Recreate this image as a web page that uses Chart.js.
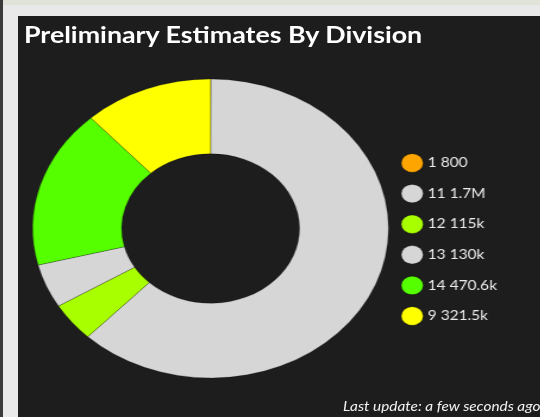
<!DOCTYPE html>
<html>
<head>
<meta charset="utf-8">
<script src="https://cdn.jsdelivr.net/npm/chart.js@4.4.1/dist/chart.umd.min.js"></script>
<style>
  html, body { margin: 0; padding: 0; }
  body { width: 540px; height: 417px; overflow: hidden; background: #e9e9e9; position: relative; }
  #edge { position: absolute; left: 0; top: 0; width: 3px; height: 417px; background: #3a3a3a; }
  #band { position: absolute; left: 0; top: 0; width: 540px; height: 5px; background: #dfe3d8; }
  #panel { position: absolute; left: 18px; top: 16px; width: 522px; height: 401px; background: #1d1d1d; overflow: hidden; }
  #stage { position: absolute; left: 0; top: 0; width: 439px; height: 401px; transform: scaleX(1.19); transform-origin: 0 0; }
  #title { position: absolute; left: 5px; top: 5.5px; font: 700 22.5px/25px Lato, "Open Sans", sans-serif; color: #ffffff; white-space: nowrap; }
  #foot { position: absolute; right: 0; top: 383px; font: italic 12.9px/14px Lato, "Open Sans", sans-serif; color: #f2f2f2; white-space: nowrap; }
  #c { position: absolute; left: 0; top: 0; }
</style>
</head>
<body>
<div id="band"></div>
<div id="edge"></div>
<div id="panel">
  <div id="stage">
    <div id="title">Preliminary Estimates By Division</div>
    <canvas id="c" width="439" height="401"></canvas>
    <div id="foot">Last update: a few seconds ago</div>
  </div>
</div>
<script>
// Division codes and their preliminary estimates
const divisions = ['1', '11', '12', '13', '14', '9'];
const estimates = [800, 1700000, 115000, 130000, 470600, 321500];
const sliceColors = ['#ffa500', '#d6d6d6', '#a8ff00', '#d6d6d6', '#55ff00', '#ffff00'];

// Short form used in the legend: 800, 115k, 470.6k, 1.7M
function shortNumber(v) {
  const trim = n => (Math.round(n * 10) / 10).toString();
  if (v >= 1e6) return trim(v / 1e6) + 'M';
  if (v >= 1e3) return trim(v / 1e3) + 'k';
  return String(v);
}

const baseLabels = Chart.overrides.doughnut.plugins.legend.labels.generateLabels;

new Chart(document.getElementById('c'), {
  type: 'doughnut',
  data: {
    labels: divisions,
    datasets: [{
      data: estimates,
      backgroundColor: sliceColors,
      borderColor: 'rgba(0,0,0,0.22)',
      borderWidth: 1,
      clip: false
    }]
  },
  options: {
    responsive: false,
    animation: false,
    devicePixelRatio: 1,
    radius: 149.5,
    cutout: '50%',
    layout: { padding: { top: 62, bottom: 38, left: 16.5, right: 26.5 } },
    plugins: {
      tooltip: { enabled: false },
      legend: {
        position: 'right',
        title: { display: true, text: '', font: { size: 10 }, padding: { top: 10, bottom: 0 } },
        labels: {
          usePointStyle: true,
          pointStyle: 'circle',
          color: '#ececec',
          padding: 17.6,
          font: { family: 'Lato, "Open Sans", sans-serif', size: 13 },
          generateLabels(chart) {
            return baseLabels(chart).map((item, i) => {
              item.text = divisions[i] + ' ' + shortNumber(estimates[i]);
              return item;
            });
          }
        }
      }
    }
  }
});
</script>
</body>
</html>
